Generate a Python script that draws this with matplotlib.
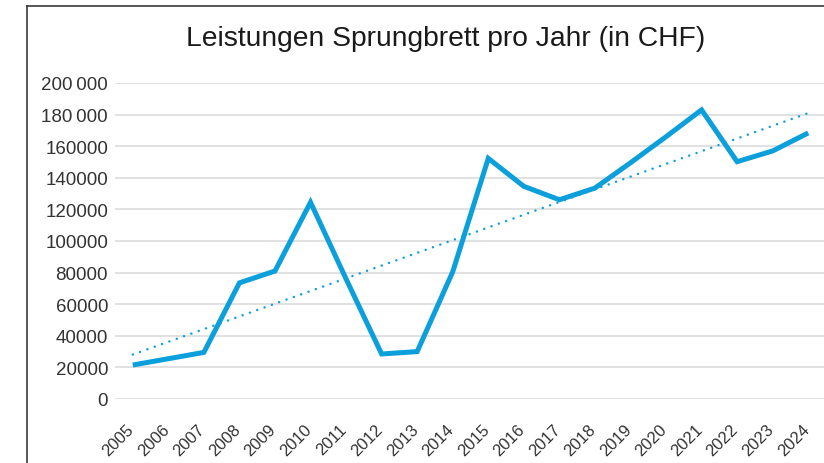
import numpy as np
import matplotlib
matplotlib.use("Agg")
import matplotlib.pyplot as plt
from matplotlib.lines import Line2D
from matplotlib.transforms import ScaledTranslation

plt.rcParams['font.family'] = ['Liberation Sans', 'DejaVu Sans']

# data
years = ['2005', '2006', '2007', '2008', '2009', '2010', '2011', '2012', '2013', '2014',
         '2015', '2016', '2017', '2018', '2019', '2020', '2021', '2022', '2023', '2024']
amounts = [21500, 25500, 29500, 73500, 81000, 124500, 76000, 28500, 30000, 80500,
           152300, 134600, 126100, 133500, 149500, 166000, 183000, 150200, 157000, 168400]
yticks = [0, 20000, 40000, 60000, 80000, 100000, 120000, 140000, 160000, 180000, 200000]
ytick_labels = ['0', '20000', '40000', '60000', '80000', '100000', '120000', '140000',
                '160000', '180\u2009000', '200\u2009000']

blue = '#0b9fdc'
W, H = 824, 464

fig = plt.figure(figsize=(W / 100, H / 100), dpi=100)
ax = fig.add_axes([115 / W, 64 / H, 711 / W, 316 / H])

x = np.arange(len(years))
ax.plot(x, amounts, color=blue, lw=3.6, solid_joinstyle='miter',
        solid_capstyle='butt', zorder=3, clip_on=False)

# linear trend line (like the spreadsheet trendline)
k, d = np.polyfit(x, amounts, 1)
ax.plot(x, k * x + d, color=blue, lw=1.8, linestyle=(0, (0.01, 3.1)),
        dash_capstyle='round', zorder=2, clip_on=False)

ax.set_xlim(-0.5, len(years) - 0.5)
ax.set_ylim(0, 200000)
ax.set_yticks(yticks)
ax.set_yticklabels(ytick_labels)
ax.set_xticks(x)
ax.set_xticklabels(years, rotation=45, ha='right', va='top')
ax.tick_params(axis='y', length=0, pad=5, labelsize=13.5, labelcolor='#333333')
ax.tick_params(axis='x', length=0, pad=16, labelsize=12, labelcolor='#333333')
for lab in ax.get_xticklabels():
    lab.set_transform(lab.get_transform() + ScaledTranslation(4 / 100, 0, fig.dpi_scale_trans))

ax.grid(axis='y', color='#dcdcdc', lw=1.2)
ax.set_axisbelow(True)
for s in ax.spines.values():
    s.set_visible(False)

fig.text(445.5 / W, 1 - 46.5 / H, 'Leistungen Sprungbrett pro Jahr (in CHF)',
         ha='center', va='baseline', fontsize=20.3, color='#1a1a1a')

# outer frame (left and top edges of the cropped chart box)
fig.add_artist(Line2D([26.5 / W, 26.5 / W], [0, 1 - 6.5 / H], color='#3a3a3a', lw=1.2))
fig.add_artist(Line2D([26.5 / W, 1], [1 - 6.5 / H, 1 - 6.5 / H], color='#3a3a3a', lw=1.2))

fig.savefig('out.png', dpi=100)
